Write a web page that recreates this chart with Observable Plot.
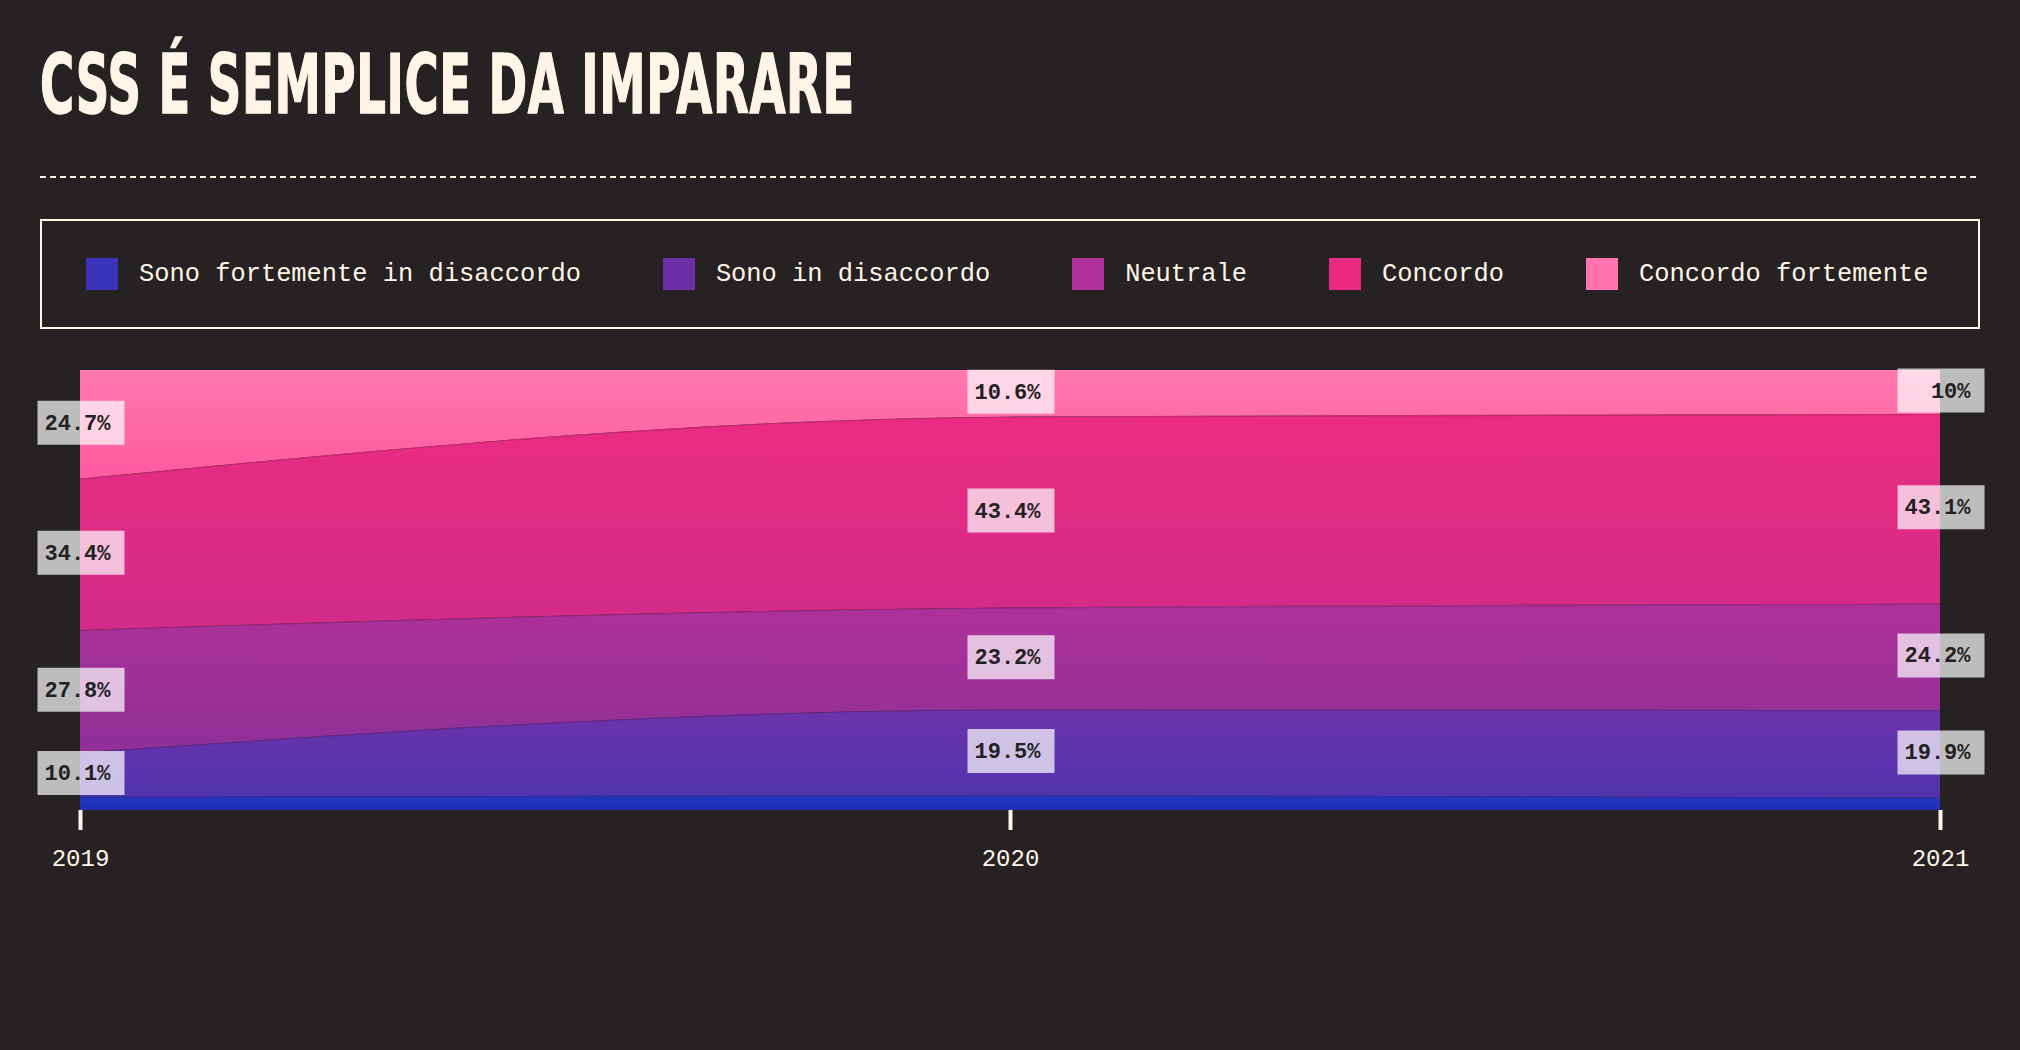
<!DOCTYPE html>
<html>
<head>
<meta charset="utf-8">
<script src="https://cdn.jsdelivr.net/npm/d3@7"></script>
<script src="https://cdn.jsdelivr.net/npm/@observablehq/plot@0.6"></script>
<style>
  html, body { margin: 0; padding: 0; background: #262223; }
  body { width: 2020px; height: 1050px; position: relative; overflow: hidden; }
  #title {
    position: absolute; left: 40px; top: 44px;
    font-family: "Liberation Sans Narrow", "DejaVu Sans Condensed", "DejaVu Sans", sans-serif;
    font-stretch: condensed; font-weight: bold; font-size: 82px; line-height: 1;
    color: #fff5e6; white-space: nowrap; transform-origin: 0 0; letter-spacing: 1px;
    -webkit-text-stroke: 1.5px #fff5e6;
  }
  #rule {
    position: absolute; left: 40px; top: 176px; width: 1940px; height: 2px;
    background: repeating-linear-gradient(to right, #fff5e6 0 6px, transparent 6px 10px);
  }
  #legend {
    position: absolute; left: 40px; top: 219px; width: 1940px; height: 110px;
    box-sizing: border-box; border: 2px solid #fff5e6;
    display: flex; align-items: center; padding-left: 44px; gap: 82px;
    font-family: "Liberation Mono", "DejaVu Sans Mono", monospace; font-size: 25.4px; color: #fff5e6;
  }
  #legend .item { display: flex; align-items: center; }
  #legend .sw { width: 32px; height: 32px; margin-right: 21px; }
  #chart { position: absolute; left: 0; top: 340px; }
</style>
</head>
<body>
<div id="title">CSS É SEMPLICE DA IMPARARE</div>
<div id="rule"></div>
<div id="legend"></div>
<div id="chart"></div>
<script>
// risposte, dal basso verso l'alto
const cats = ["Sono fortemente in disaccordo", "Sono in disaccordo", "Neutrale", "Concordo", "Concordo fortemente"];
const years = [2019, 2020, 2021];
const fortementeDisaccordo = [3.0, 3.3, 2.8];
const disaccordo = [10.1, 19.5, 19.9];
const neutrale = [27.8, 23.2, 24.2];
const concordo = [34.4, 43.4, 43.1];
const concordoFortemente = [24.7, 10.6, 10];

const swatch = ["#3a33b8", "#6c2fa6", "#b0319b", "#ea2a80", "#ff74ae"];
const gradTop = ["#2436c0", "#6d33aa", "#ae3198", "#ea2c81", "#ff79ae"];
const gradBottom = ["#1f30b8", "#5033ae", "#8f3099", "#d22b89", "#fe5a9f"];
const cream = "#fff5e6";

const series = [fortementeDisaccordo, disaccordo, neutrale, concordo, concordoFortemente];
const rows = [];
cats.forEach((cat, i) => years.forEach((year, j) => rows.push({cat, year, value: series[i][j]})));

// legenda
const legend = d3.select("#legend");
cats.forEach((c, i) => {
  const it = legend.append("div").attr("class", "item");
  it.append("div").attr("class", "sw").style("background", swatch[i]);
  it.append("span").text(c);
});

// titolo stretto
const title = document.getElementById("title");
title.style.transform = `scaleX(${815 / title.getBoundingClientRect().width})`;

const box = {draw(ctx) { ctx.rect(-43, -22, 87, 44); }};
const stackOpts = {x: "year", y: "value", z: "cat", order: cats};

const chart = Plot.plot({
  width: 2020,
  height: 550,
  marginTop: 30,
  marginBottom: 80,
  marginLeft: 80,
  marginRight: 80,
  style: {background: "transparent", overflow: "visible"},
  x: {domain: [2019, 2021]},
  y: {domain: [0, 100], axis: null},
  color: {type: "identity"},
  marks: [
    Plot.areaY(rows, Plot.stackY({...stackOpts, fill: d => `url(#band${cats.indexOf(d.cat)})`, curve: "monotone-x"})),
    Plot.lineY(rows, Plot.stackY1({...stackOpts, stroke: "#3a0f35", strokeOpacity: 0.2, strokeWidth: 1.2, curve: "monotone-x"})),
    Plot.dot(rows, Plot.stackY({...stackOpts, symbol: box, dy: -2, fill: d => d.cat === cats[0] ? "none" : "white", fillOpacity: 0.7, stroke: null})),
    Plot.text(rows, Plot.stackY({...stackOpts, text: d => d.cat === cats[0] ? "" : d.value + "%",
      textAnchor: "end", dx: 30, dy: -2, fill: "#222", fontSize: 22, fontWeight: "bold",
      fontFamily: "'Liberation Mono', 'DejaVu Sans Mono', monospace"})),
    Plot.axisX({ticks: years, tickFormat: "d", tickSize: 20, tickPadding: 18, strokeWidth: 4,
      stroke: cream, fill: cream, fontSize: 24, label: null,
      fontFamily: "'Liberation Mono', 'DejaVu Sans Mono', monospace"})
  ]
});

// gradienti verticali per ogni fascia
const defs = d3.select(chart).insert("defs", ":first-child");
cats.forEach((c, i) => {
  const g = defs.append("linearGradient").attr("id", `band${i}`).attr("x1", 0).attr("y1", 0).attr("x2", 0).attr("y2", 1);
  g.append("stop").attr("offset", "0%").attr("stop-color", gradTop[i]);
  g.append("stop").attr("offset", "100%").attr("stop-color", gradBottom[i]);
});

d3.select("#chart").append(() => chart);
</script>
</body>
</html>
